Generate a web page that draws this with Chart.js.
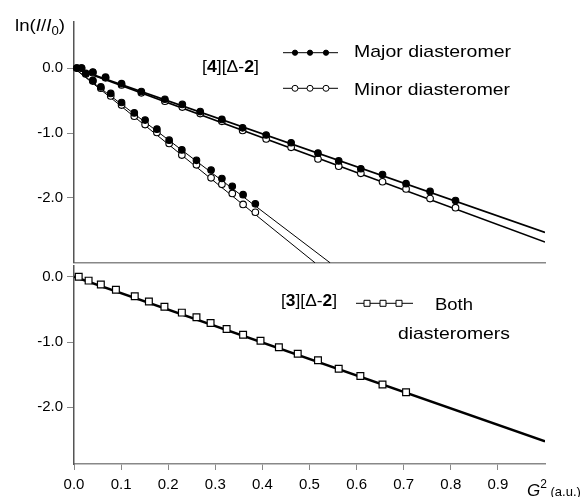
<!DOCTYPE html>
<html>
<head>
<meta charset="utf-8">
<script src="https://cdn.jsdelivr.net/npm/chart.js@4.4.1/dist/chart.umd.min.js"></script>
<style>
  html, body { margin: 0; padding: 0; background: #fff; }
  #wrap { position: relative; width: 588px; height: 497px; overflow: hidden; font-family: "Liberation Sans", Arial, sans-serif; color: #000; }
  #wrap canvas { position: absolute; left: 0; }
  .lbl { position: absolute; white-space: nowrap; line-height: 1; font-size: 17px; transform-origin: 0 0; }
  .sub { font-size: 12px; position: relative; top: 4px; }
  .sup { font-size: 12px; position: relative; top: -8px; }
</style>
</head>
<body>
<div id="wrap">
  <canvas id="topChart" width="588" height="268" style="top:0"></canvas>
  <canvas id="botChart" width="588" height="251" style="top:246px"></canvas>

  <div class="lbl" data-w="50" style="left:15px; top:16.6px">ln(<i>I</i>/<i>I</i><span class="sub">0</span>)</div>
  <div class="lbl" data-w="57" style="left:201.5px; top:58px">[<b>4</b>][Δ-<b>2</b>]</div>
  <div class="lbl" data-w="157" style="left:354px; top:42.9px">Major diasteromer</div>
  <div class="lbl" data-w="156" style="left:354px; top:81.3px">Minor diasteromer</div>
  <div class="lbl" data-w="56" style="left:281px; top:291.6px">[<b>3</b>][Δ-<b>2</b>]</div>
  <div class="lbl" data-w="38" style="left:435px; top:295.6px">Both</div>
  <div class="lbl" data-w="112" style="left:398.3px; top:324.9px">diasteromers</div>
  <div class="lbl" style="left:527px; top:482px"><i>G</i><span class="sup">2</span><span style="font-size:13px"> (a.u.)</span></div>
</div>

<script>
// [4][Δ-2], slow decay (G^2 vs ln(I/I0))
const slowX = [0.016, 0.040, 0.067, 0.101, 0.143, 0.193, 0.230, 0.268, 0.314, 0.358, 0.408, 0.461, 0.518, 0.562, 0.609, 0.655, 0.705, 0.756, 0.810];
const slowMajor = [0, -0.06, -0.14, -0.24, -0.36, -0.48, -0.56, -0.67, -0.79, -0.92, -1.03, -1.15, -1.31, -1.43, -1.55, -1.64, -1.78, -1.90, -2.04];
const slowMinor = [0, -0.07, -0.15, -0.26, -0.38, -0.51, -0.60, -0.70, -0.82, -0.96, -1.09, -1.22, -1.40, -1.51, -1.62, -1.75, -1.86, -2.01, -2.15];

// [4][Δ-2], fast decay
const fastX = [0.006, 0.025, 0.040, 0.057, 0.078, 0.101, 0.128, 0.151, 0.176, 0.202, 0.229, 0.260, 0.291, 0.314, 0.336, 0.359, 0.385];
const fastMajor = [0, -0.08, -0.19, -0.29, -0.39, -0.53, -0.69, -0.80, -0.94, -1.11, -1.26, -1.42, -1.57, -1.70, -1.82, -1.95, -2.09];
const fastMinor = [0, -0.09, -0.20, -0.31, -0.43, -0.57, -0.74, -0.87, -0.99, -1.16, -1.34, -1.49, -1.69, -1.79, -1.93, -2.10, -2.22];

// [3][Δ-2], both diasteromers
const bothX = [0.010, 0.031, 0.057, 0.089, 0.129, 0.159, 0.192, 0.229, 0.260, 0.290, 0.324, 0.359, 0.396, 0.435, 0.475, 0.518, 0.562, 0.608, 0.655, 0.705];
const bothY = [0, -0.06, -0.12, -0.20, -0.30, -0.38, -0.46, -0.55, -0.62, -0.71, -0.80, -0.89, -0.98, -1.08, -1.18, -1.28, -1.41, -1.52, -1.65, -1.77];

// fitted lines (end points as drawn)
const fitSlowMajor = [[0, 0], [1.0, -2.53]];
const fitSlowMinor = [[0, 0], [1.0, -2.68]];
const fitFastMajor = [[0, 0], [0.544, -3.0]];
const fitFastMinor = [[0, 0], [0.512, -3.0]];
const fitBoth = [[0, 0], [1.0, -2.52]];

const xTicks = [0, 0.1, 0.2, 0.3, 0.4, 0.5, 0.6, 0.7, 0.8, 0.9];
const yTicks = [0, -1, -2];

const FONT = { family: 'Liberation Sans', size: 15 };

function pts(xs, ys) {
    return xs.map((x, i) => ({ x: x, y: ys[i] }));
}
function seg(p) {
    return p.map(v => ({ x: v[0], y: v[1] }));
}

function fitLine(p, w) {
    return { data: seg(p), showLine: true, pointRadius: 0, borderColor: '#000', borderWidth: w, order: 5 };
}
function dots(data, fill, order) {
    return {
        data: data, showLine: false, pointStyle: 'circle', pointRadius: 3.3,
        backgroundColor: fill, borderColor: '#000', borderWidth: 1.1, clip: false, order: order
    };
}

function yAxis(min, max) {
    return {
        min: min, max: max,
        afterBuildTicks: s => { s.ticks = yTicks.map(v => ({ value: v })); },
        afterFit: s => { s.width = 74; s.paddingTop = 0; s.paddingBottom = 0; },
        grid: { display: true, drawOnChartArea: false, drawTicks: true, tickLength: 7, color: '#888' },
        border: { display: true, color: '#555', width: 1.5 },
        ticks: { color: '#000', font: FONT, padding: 4, callback: v => v.toFixed(1) }
    };
}

// small key samples next to the labels
const keyMarks = {
    id: 'keyMarks',
    afterDraw(chart, args, opts) {
        const ctx = chart.ctx;
        ctx.save();
        (opts.rows || []).forEach(r => {
            ctx.strokeStyle = '#000';
            ctx.lineWidth = 1;
            ctx.beginPath();
            ctx.moveTo(r.x1, r.y);
            ctx.lineTo(r.x2, r.y);
            ctx.stroke();
            r.marks.forEach(mx => {
                ctx.beginPath();
                if (r.kind === 'box') {
                    ctx.rect(mx - 3, r.y - 3, 6, 6);
                } else {
                    ctx.arc(mx, r.y, r.kind === 'dot' ? 2.6 : 3, 0, Math.PI * 2);
                }
                ctx.fillStyle = r.kind === 'dot' ? '#000' : '#fff';
                ctx.fill();
                ctx.stroke();
            });
        });
        ctx.restore();
    }
};

const commonOpts = {
    responsive: false,
    animation: false,
    events: [],
};

const topChart = new Chart(document.getElementById('topChart'), {
    type: 'scatter',
    data: {
        datasets: [
            dots(pts(slowX, slowMajor), '#000', 0),
            dots(pts(fastX, fastMajor), '#000', 0),
            dots(pts(slowX, slowMinor), '#fff', 1),
            dots(pts(fastX, fastMinor), '#fff', 1),
            fitLine(fitSlowMajor, 1.6),
            fitLine(fitSlowMinor, 1.6),
            fitLine(fitFastMajor, 1),
            fitLine(fitFastMinor, 1)
        ]
    },
    options: Object.assign({}, commonOpts, {
        layout: { padding: { top: 22, bottom: 2, left: 0, right: 43 } },
        plugins: {
            legend: { display: false },
            tooltip: { enabled: false },
            keyMarks: {
                rows: [
                    { x1: 283, x2: 338, y: 52.7, marks: [295, 310, 326], kind: 'dot' },
                    { x1: 283, x2: 338, y: 88.3, marks: [295, 310, 326], kind: 'ring' }
                ]
            }
        },
        scales: {
            x: {
                type: 'linear', min: 0, max: 1,
                afterFit: s => { s.height = 0; s.paddingLeft = 0; s.paddingRight = 0; },
                grid: { display: false },
                ticks: { display: false },
                border: { display: true, color: '#888', width: 1.5 }
            },
            y: yAxis(-3.0, 0.71)
        }
    }),
    plugins: [keyMarks]
});

const botChart = new Chart(document.getElementById('botChart'), {
    type: 'scatter',
    data: {
        datasets: [
            {
                data: pts(bothX, bothY), showLine: false, pointStyle: 'rect', pointRadius: 4.8,
                backgroundColor: '#fff', borderColor: '#000', borderWidth: 1.2, clip: false, order: 0
            },
            fitLine(fitBoth, 2.4)
        ]
    },
    options: Object.assign({}, commonOpts, {
        layout: { padding: { top: 20, bottom: 0, left: 0, right: 43 } },
        plugins: {
            legend: { display: false },
            tooltip: { enabled: false },
            keyMarks: {
                rows: [
                    { x1: 356, x2: 413, y: 57.3, marks: [367, 383, 399], kind: 'box' }
                ]
            }
        },
        scales: {
            x: {
                type: 'linear', min: 0, max: 1,
                afterBuildTicks: s => { s.ticks = xTicks.map(v => ({ value: v })); },
                afterFit: s => { s.height = 33; },
                grid: { display: true, drawOnChartArea: false, tickLength: 6, color: '#888' },
                border: { display: true, color: '#888', width: 1.5 },
                ticks: { color: '#000', font: FONT, padding: 6, maxRotation: 0, autoSkip: false, callback: v => v.toFixed(1) }
            },
            y: yAxis(-2.868, 0.164)
        }
    }),
    plugins: [keyMarks]
});

// stretch labels to the widths seen in the figure
document.querySelectorAll('.lbl[data-w]').forEach(el => {
    const w = el.getBoundingClientRect().width;
    el.style.transform = 'scaleX(' + (parseFloat(el.dataset.w) / w).toFixed(3) + ')';
});
</script>
</body>
</html>
